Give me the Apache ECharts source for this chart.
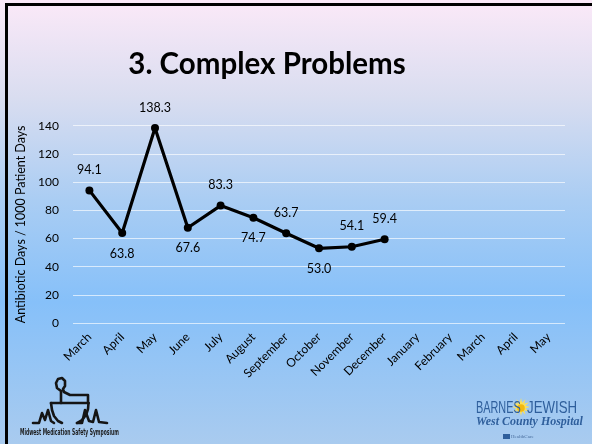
<!DOCTYPE html>
<html>
<head>
<meta charset="utf-8">
<script src="https://cdn.jsdelivr.net/npm/echarts@6/dist/echarts.min.js"></script>
<style>
  html, body { margin: 0; padding: 0; }
  #chart { width: 592px; height: 444px; }
</style>
</head>
<body>
<div id="chart"></div>
<script>
// Monthly antibiotic usage (antibiotic days per 1000 patient days)
const months = ['March', 'April', 'May', 'June', 'July', 'August', 'September',
  'October', 'November', 'December', 'January', 'February', 'March', 'April', 'May'];
const usage = [94.1, 63.8, 138.3, 67.6, 83.3, 74.7, 63.7, 53.0, 54.1, 59.4,
  null, null, null, null, null];
// which side of the point each value label sits on
const labelSide = ['top', 'bottom', 'top', 'bottom', 'top', 'bottom', 'top',
  'bottom', 'top', 'top'];
const yTicks = { min: 0, max: 140, step: 20 };

const font = 'Lato, "Open Sans", sans-serif';

const seriesData = usage.map((v, i) => (v === null ? null : {
  value: v,
  label: { position: labelSide[i] }
}));

const chart = echarts.init(document.getElementById('chart'), null, { renderer: 'canvas' });

const ink = { stroke: '#151515', lineWidth: 2.6, fill: null, lineJoin: 'round', lineCap: 'round' };
const bjcBlue = '#2f5f9c';

// sun burst behind the hospital name
const sunRays = [];
for (let k = 0; k < 24; k++) {
  const a = (k / 24) * Math.PI * 2;
  const r = k % 2 === 0 ? 9 : 4.5;
  sunRays.push([521 + r * Math.cos(a), 407 + r * Math.sin(a)]);
}

chart.setOption({
  animation: false,
  backgroundColor: new echarts.graphic.LinearGradient(0, 0, 0, 1, [
    { offset: 0, color: '#fbe9f8' },
    { offset: 0.22, color: '#d9ddf0' },
    { offset: 0.45, color: '#aacdf3' },
    { offset: 0.68, color: '#86c0f9' },
    { offset: 1, color: '#a9cbef' }
  ]),
  title: {
    text: '3. Complex Problems',
    left: 262, top: 44, textAlign: 'center',
    textStyle: { fontFamily: font, fontWeight: 'bold', fontSize: 29.5, color: '#000' }
  },
  grid: { left: 73, right: 27, top: 125.7, bottom: 121 },
  xAxis: {
    type: 'category',
    data: months,
    boundaryGap: true,
    axisLine: { show: false },
    axisTick: { show: false },
    axisLabel: {
      rotate: 45, margin: 12, interval: 0,
      fontFamily: font, fontSize: 12, color: '#000'
    }
  },
  yAxis: {
    type: 'value',
    min: yTicks.min, max: yTicks.max, interval: yTicks.step,
    name: 'Antibiotic Days / 1000 Patient Days',
    nameLocation: 'middle',
    nameGap: 46,
    nameTextStyle: { fontFamily: font, fontSize: 12.5, color: '#000' },
    axisLine: { show: false },
    axisTick: { show: false },
    axisLabel: { fontFamily: font, fontSize: 12, color: '#000', margin: 14 },
    splitLine: { lineStyle: { color: 'rgba(255,255,255,0.65)', width: 1.2 } }
  },
  series: [{
    type: 'line',
    data: seriesData,
    connectNulls: false,
    symbol: 'circle',
    symbolSize: 8,
    lineStyle: { color: '#000', width: 3.2 },
    itemStyle: { color: '#000' },
    label: {
      show: true,
      distance: 10,
      fontFamily: font, fontSize: 12.5, color: '#000',
      formatter: p => p.value.toFixed(1)
    }
  }],
  graphic: [
    // slide frame
    { type: 'rect', shape: { x: 5, y: 3, width: 592, height: 3 }, style: { fill: '#000' }, z: 100 },
    { type: 'rect', shape: { x: 5, y: 3, width: 3, height: 444 }, style: { fill: '#000' }, z: 100 },

    // symposium mark: heartbeat line running into a mortar and pestle
    {
      type: 'polyline', z: 50,
      shape: { points: [[33, 423], [39, 423], [42, 413], [45, 420], [48, 410], [51, 421], [54, 423]] },
      style: ink
    },
    {
      type: 'polyline', z: 50,
      shape: { points: [[51, 403], [52, 410], [54, 416], [58, 421], [62, 423]] },
      style: ink
    },
    {
      type: 'polyline', z: 50,
      shape: { points: [[77, 423], [82, 420], [86, 415], [88, 409], [88.5, 403]] },
      style: ink
    },
    { type: 'line', z: 50, shape: { x1: 51, y1: 403, x2: 88.5, y2: 403 }, style: ink },
    {
      type: 'polyline', z: 50,
      shape: { points: [[77, 423], [82, 423], [85, 410], [89, 421], [93, 422], [96, 410], [99, 422], [107, 423]] },
      style: ink
    },
    {
      type: 'polyline', z: 50,
      shape: { points: [[61, 403], [61, 391], [57, 388], [56, 383], [58, 379], [62, 378], [65, 381], [65, 386], [63, 389], [64, 392], [70, 395], [88, 395], [88, 403]] },
      style: ink
    },
    {
      type: 'text', left: 20, top: 429, z: 50, scaleX: 0.62,
      style: {
        text: 'Midwest Medication Safety Symposium',
        font: 'bold 8px "DejaVu Sans Condensed", sans-serif', fill: '#1c1c1c'
      }
    },

    // hospital mark
    { type: 'polygon', z: 49, shape: { points: sunRays }, style: { fill: '#fbe05a' } },
    { type: 'circle', z: 50, shape: { cx: 521, cy: 408, r: 3.8 }, style: { fill: '#f2b90f' } },
    {
      type: 'text', left: 476, top: 400, z: 50, scaleX: 0.64,
      style: { text: 'BARNES', font: '17px "Liberation Sans", sans-serif', fill: bjcBlue }
    },
    {
      type: 'text', left: 527, top: 400, z: 50, scaleX: 0.78,
      style: { text: 'JEWISH', font: '17px "Liberation Sans", sans-serif', fill: bjcBlue }
    },
    {
      type: 'text', left: 476, top: 415, z: 50, scaleX: 0.92,
      style: { text: 'West County Hospital', font: 'bold italic 13px "Liberation Serif", serif', fill: bjcBlue }
    },
    { type: 'rect', z: 50, shape: { x: 503, y: 434, width: 7, height: 5 }, style: { fill: bjcBlue } },
    {
      type: 'text', left: 511, top: 434, z: 50,
      style: { text: 'HealthCare', font: '5px "Liberation Serif", serif', fill: '#4a6f9f' }
    }
  ]
});
</script>
</body>
</html>
